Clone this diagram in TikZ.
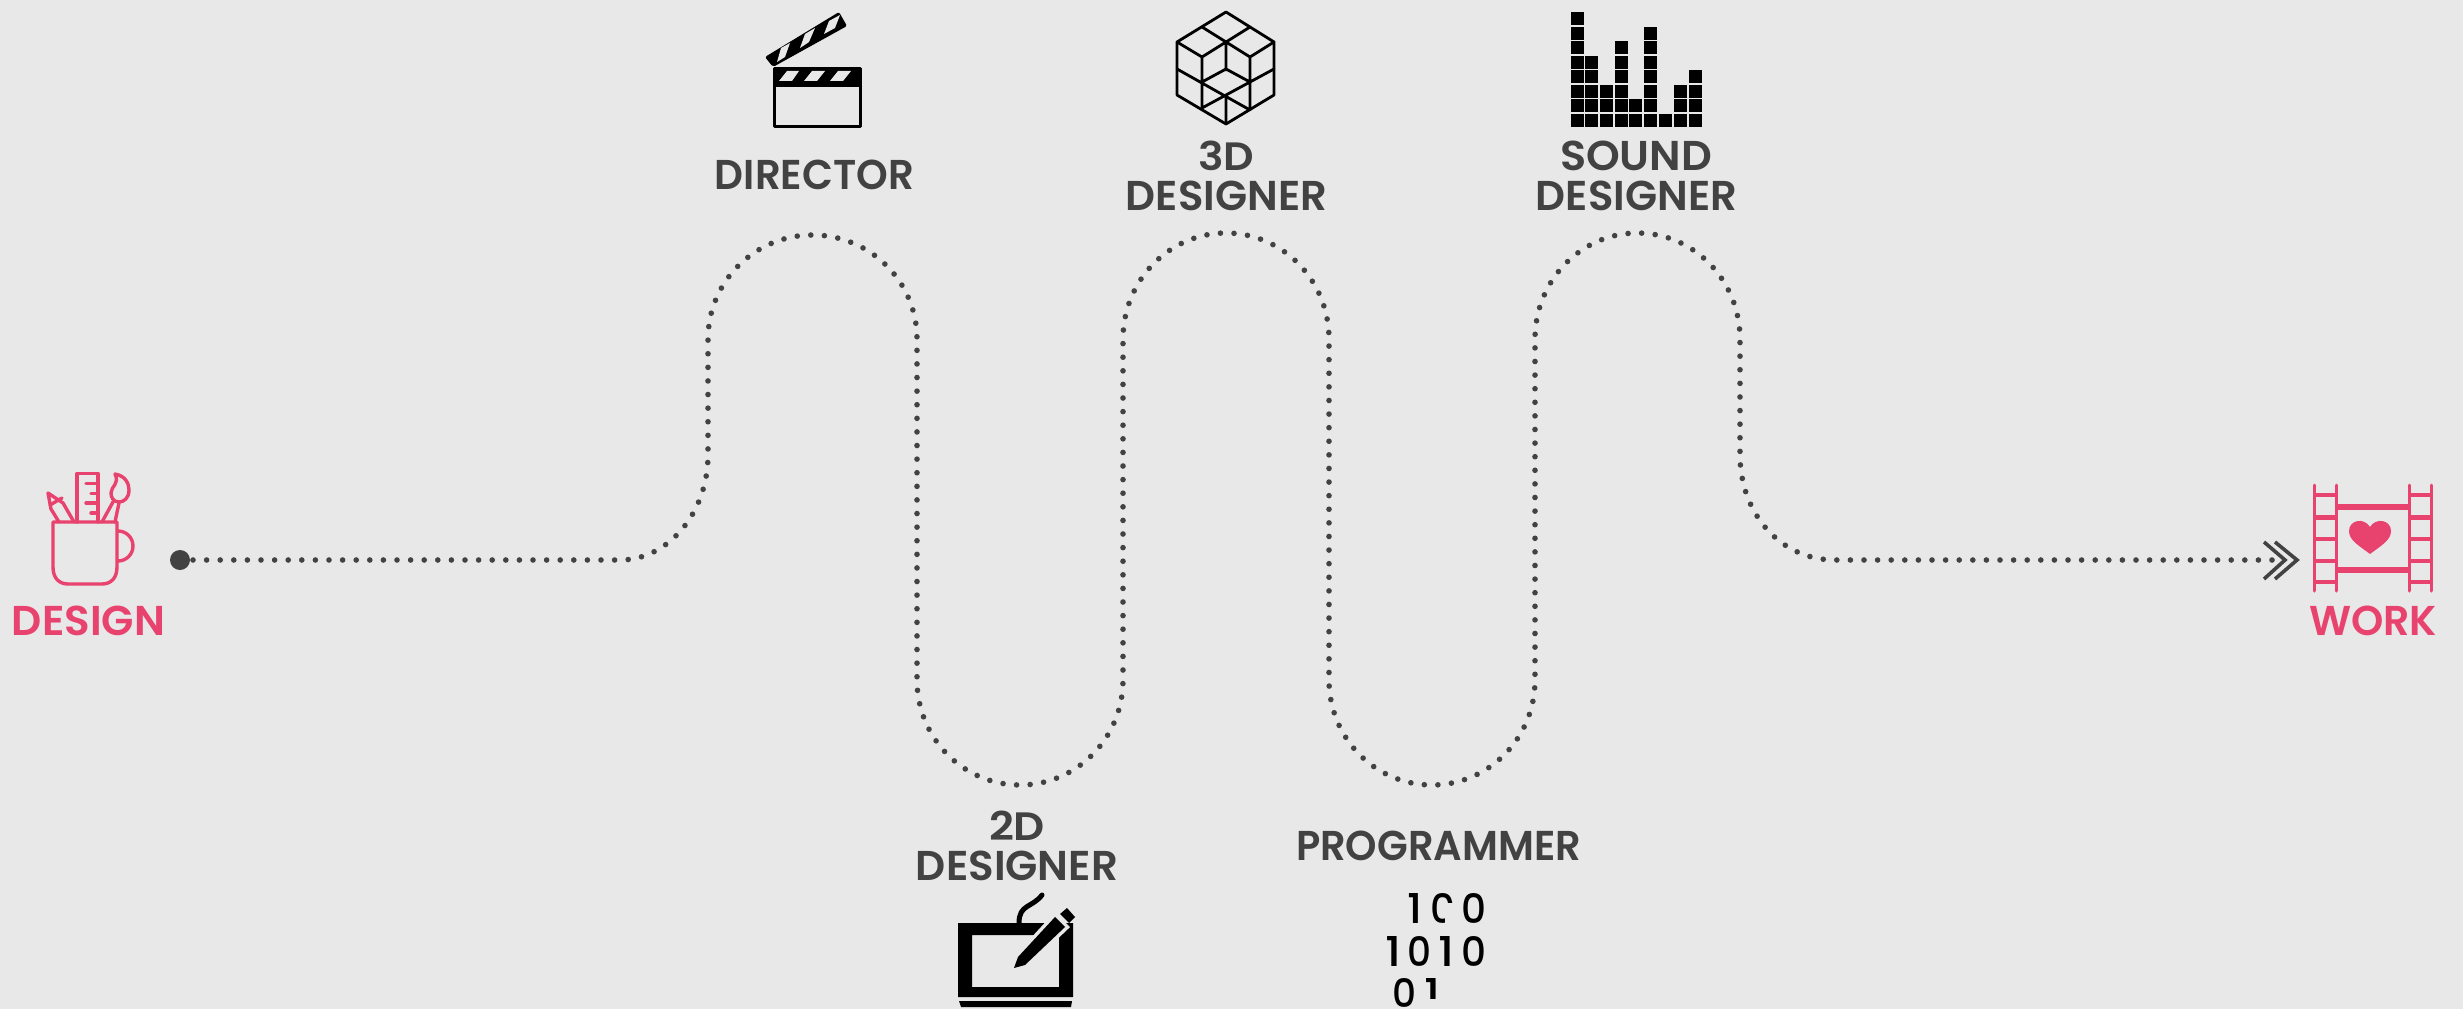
\documentclass[tikz,border=0pt]{standalone}
\usepackage{fontspec}
\setmainfont{Poppins}
\newfontfamily\labf{Poppins SemiBold}
\newfontfamily\digf{Poppins Medium}
\newdimen\pxu \pxu=0.03cm
\definecolor{bgc}{HTML}{E8E8E8}
\definecolor{pinkc}{HTML}{E8436E}
\definecolor{greyc}{HTML}{424242}
% name, centre x, centre y, width, height, colour, text
\newcommand{\lab}[7]{\node[lbl,text=#6] (#1) at (#2,#3) {\resizebox{\dimexpr#4\pxu+4\pxu\relax}{#5\pxu}{\labf #7}};}
\newcommand{\dig}[6]{\node[lbl,text=black] (#1) at (#2,#3) {\resizebox{\dimexpr#4\pxu+4\pxu\relax}{#5\pxu}{\digf #6}};}
\tikzset{
  lbl/.style={inner sep=0pt,outer sep=0pt},
  pinkline/.style={draw=pinkc,line width=3.4\pxu,line join=round,line cap=round},
  reel/.style={draw=pinkc,line width=3\pxu,line cap=round},
  rung/.style={draw=pinkc,line width=3.6\pxu},
  blk/.style={draw=black,line width=2.8\pxu,line join=round,line cap=round},
  dotpath/.style={draw=greyc,line width=5.6\pxu,line cap=round,dash pattern=on 0pt off 13.6\pxu},
  chev/.style={draw=greyc,line width=3.6\pxu,line join=miter},
}
\begin{document}
\begin{tikzpicture}[x=0.03cm,y=-0.03cm]
\fill[bgc] (0,0) rectangle (2463,1009);
\useasboundingbox (0,0) rectangle (2463,1009);

% connector
\node[circle,fill=greyc,minimum size=20\pxu,inner sep=0pt,outer sep=0pt] (start) at (180,560) {};
\coordinate (finish) at (2272,560);
\draw[dotpath] ([xshift=3\pxu]start.east) -- (620,560)
  .. controls (668,560) and (708,513) .. (708,455) -- (708,339)
  arc[start angle=180,end angle=360,x radius=104.5,y radius=104]
  -- (917,680)
  arc[start angle=180,end angle=0,x radius=103,y radius=105]
  -- (1123,339)
  arc[start angle=180,end angle=360,x radius=103,y radius=106]
  -- (1329,680)
  arc[start angle=180,end angle=0,x radius=103,y radius=105]
  -- (1535,339)
  arc[start angle=180,end angle=360,x radius=102.5,y radius=106]
  -- (1740,455)
  .. controls (1740,513) and (1780,560) .. (1835,560) -- (finish);
\draw[chev] (2264,542) -- (2285,560) -- (2264,579);
\draw[chev] (2275,542) -- (2297,560) -- (2275,579);

% mug icon
\draw[pinkline] (53,522) -- (117,522) -- (117,567) .. controls (117,578) and (111,584) .. (102,584)
  -- (68,584) .. controls (59,584) and (53,578) .. (53,567) -- cycle;
\draw[pinkline,line cap=butt] (118,531) arc[start angle=-90,end angle=90,radius=15];
\draw[pinkline] (77,522) -- (77,473.5) -- (98,473.5) -- (98,522);
\foreach \yy/\xx in {483.5/86,493.5/91,503/86,513/91}{\draw[pinkline] (98,\yy) -- (\xx,\yy);}
\draw[pinkline] (74,522) -- (63,503) -- (48,493) -- (51,509) -- (59,522);
\draw[pinkline] (50,505) -- (62,498);
\draw[pinkline] (102,522) -- (113,502);
\draw[pinkline] (115,522) -- (119,503);
\draw[pinkline] (115,474) .. controls (126,476) and (129,484) .. (129,490)
  .. controls (129,498) and (124,502) .. (119,502)
  .. controls (113,502) and (111,497) .. (111,493)
  .. controls (111,486) and (120,484) .. (115,474) -- cycle;

% film icon
\foreach \xx in {2314,2336,2409,2431}{\draw[reel] (\xx,485) -- (\xx,591);}
\foreach \yy in {495,539,561,582}{
  \draw[rung] (2314,\yy) -- (2336,\yy);
  \draw[rung] (2409,\yy) -- (2431,\yy);}
\draw[draw=pinkc,line width=5\pxu] (2314,517) -- (2336,517) (2409,517) -- (2431,517);
\draw[draw=pinkc,line width=5.4\pxu] (2336,507) -- (2409,507) (2336,570) -- (2409,570);
\fill[pinkc] (2370,554) .. controls (2358,545) and (2349,540) .. (2349,531)
  .. controls (2349,520) and (2364,517) .. (2370,527)
  .. controls (2376,517) and (2391,520) .. (2391,531)
  .. controls (2391,540) and (2382,545) .. (2370,554) -- cycle;

% clapperboard icon
\draw[blk,line width=3\pxu,fill=bgc] (774.5,69) rectangle (860,126);
\fill[black,rounded corners=1\pxu] (773,68) rectangle (861,87);
\foreach \xx/\ww in {0/0,25/1,51/1}{
  \fill[bgc] (787+\xx,71) -- (799+\xx+\ww,71) -- (792+\xx,81) -- (779+\xx,81) -- cycle;}
\fill[black,rounded corners=2\pxu] (765,57) -- (839,12) -- (847,26) -- (773,67) -- cycle;
\fill[bgc] (781,48) -- (790,43) -- (785,57) -- (777,62) -- cycle;
\fill[bgc] (805,34) -- (815,28) -- (809,42) -- (800,48) -- cycle;
\fill[bgc] (829,21) -- (840,15) -- (835,28) -- (824,34) -- cycle;

% cube icon
\draw[blk] (1226,12) -- (1274,42) -- (1274,95) -- (1226,124) -- (1177,95) -- (1177,42) -- cycle;
\draw[blk] (1202,27) -- (1250,57) (1250,27) -- (1202,57)
  (1177,42) -- (1202,57) (1274,42) -- (1250,57)
  (1226,42) -- (1226,70)
  (1202,57) -- (1202,108) (1250,57) -- (1250,108)
  (1177,69) -- (1250,110)
  (1274,69) -- (1202,108)
  (1202,82) -- (1226,69) -- (1250,82)
  (1226,96) -- (1226,124);

% level meter icon
\foreach \xx/\hh in {1571/8,1585/5,1600/3,1615/6,1629/2,1644/7,1659/1,1674/3,1689/4}{
  \foreach \ii in {1,...,\hh}{
    \fill[black] (\xx,{114-14.55*(\ii-1)}) rectangle ++(13.3,13);
  }}

% tablet icon
\fill[black,even odd rule] (958,923) rectangle (1073,997) (972,935) rectangle (1059,987);
\fill[black] (959,1001) -- (1072,1001) -- (1071,1007) -- (961,1007) -- cycle;
\draw[black,line width=5\pxu,line cap=round] (1019,923) .. controls (1019,904) and (1032,908) .. (1042,895);
\path[draw=bgc,line width=7\pxu,line join=miter] (1014,968) -- (1018,957) -- (1055,917) -- (1065,927) -- (1025,965) -- cycle;
\fill[black] (1014,968) -- (1018,957) -- (1055,917) -- (1065,927) -- (1025,965) -- cycle;
\fill[black] (1067,908) -- (1075,917) -- (1069,923) -- (1060,914) -- cycle;

% digits icon
\dig{a1}{1414.5}{908}{11}{30}{1}
\dig{a2}{1442.5}{908}{21}{30}{0}
\dig{a3}{1473.5}{908}{21}{30}{0}
\fill[bgc] (1445,903) rectangle (1455,925);
\dig{b1}{1393}{951}{12}{30}{1}
\dig{b2}{1419}{951}{20}{30}{0}
\dig{b3}{1446.5}{951}{12}{30}{1}
\dig{b4}{1473.5}{951}{21}{30}{0}
\dig{c1}{1404}{992.5}{20}{29}{0}
\dig{c2}{1432}{992.5}{12}{29}{1}
\fill[bgc] (1420,999) rectangle (1445,1009);

% labels
\lab{design}{88.5}{620.5}{149}{29.5}{pinkc}{DESIGN}
\lab{work}{2373}{621}{124}{29.5}{pinkc}{WORK}
\lab{director}{814.5}{175}{195}{29.5}{greyc}{DIRECTOR}
\lab{threed}{1226}{156}{52}{29.5}{greyc}{3D}
\lab{designerA}{1226.5}{196}{197}{29.5}{greyc}{DESIGNER}
\lab{sound}{1636}{156}{148}{29.5}{greyc}{SOUND}
\lab{designerB}{1636.5}{196}{197}{29.5}{greyc}{DESIGNER}
\lab{twod}{1017}{826}{52}{29.5}{greyc}{2D}
\lab{designerC}{1017}{865.5}{198}{29.5}{greyc}{DESIGNER}
\lab{programmer}{1438.5}{845.5}{281}{29.5}{greyc}{PROGRAMMER}
\end{tikzpicture}
\end{document}
